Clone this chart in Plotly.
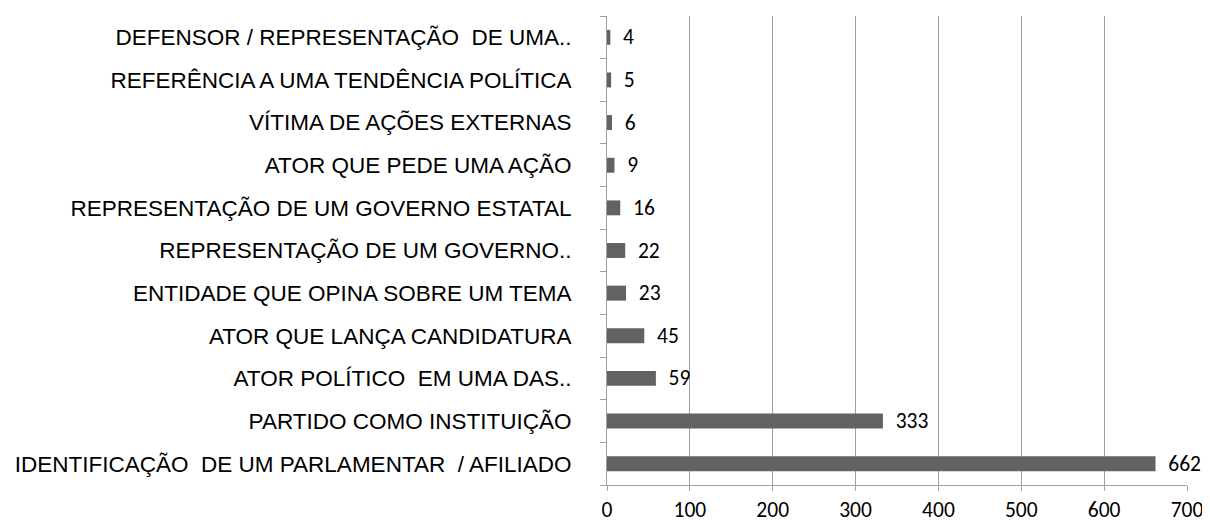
import plotly.graph_objects as go

categories = [
    "IDENTIFICAÇÃO  DE UM PARLAMENTAR  / AFILIADO",
    "PARTIDO COMO INSTITUIÇÃO",
    "ATOR POLÍTICO  EM UMA DAS..",
    "ATOR QUE LANÇA CANDIDATURA",
    "ENTIDADE QUE OPINA SOBRE UM TEMA",
    "REPRESENTAÇÃO DE UM GOVERNO..",
    "REPRESENTAÇÃO DE UM GOVERNO ESTATAL",
    "ATOR QUE PEDE UMA AÇÃO",
    "VÍTIMA DE AÇÕES EXTERNAS",
    "REFERÊNCIA A UMA TENDÊNCIA POLÍTICA",
    "DEFENSOR / REPRESENTAÇÃO  DE UMA..",
]
values = [662, 333, 59, 45, 23, 22, 16, 9, 6, 5, 4]
x_ticks = [0, 100, 200, 300, 400, 500, 600, 700]

label_font = "Liberation Sans Narrow, Arial Narrow, Liberation Sans, Arial, sans-serif"
num_font = "Carlito, Calibri, Lato, Open Sans, sans-serif"

fig = go.Figure()
fig.add_trace(go.Bar(
    y=[c.replace("  ", "\u00a0 ") for c in categories],
    x=values,
    orientation="h",
    marker=dict(color="#626262", line=dict(width=0)),
    width=0.35,
    text=values,
    texttemplate="\u00a0\u00a0%{x}",
    textposition="outside",
    constraintext="none",
    textfont=dict(family=num_font, size=21.5, color="#000000"),
    cliponaxis=False,
    hoverinfo="x+y",
))

fig.update_layout(
    width=1210,
    height=522,
    paper_bgcolor="white",
    plot_bgcolor="white",
    margin=dict(l=599, r=31, t=8, b=45),
    showlegend=False,
)
fig.update_xaxes(
    range=[0, 700],
    tickvals=x_ticks,
    showgrid=True,
    gridcolor="#a0a0a0",
    gridwidth=1,
    zeroline=False,
    showline=True,
    linecolor="#a0a0a0",
    linewidth=1,
    ticks="outside",
    ticklen=5,
    tickcolor="#a0a0a0",
    tickfont=dict(family=num_font, size=21.5, color="#000000"),
)
fig.update_yaxes(
    type="category",
    showgrid=False,
    showline=True,
    linecolor="#a0a0a0",
    linewidth=1,
    ticks="outside",
    tickson="boundaries",
    ticklen=6,
    tickcolor="#a0a0a0",
    ticklabelstandoff=30,
    tickfont=dict(family=label_font, size=22.5, color="#000000"),
)

fig.write_html("out.html")
